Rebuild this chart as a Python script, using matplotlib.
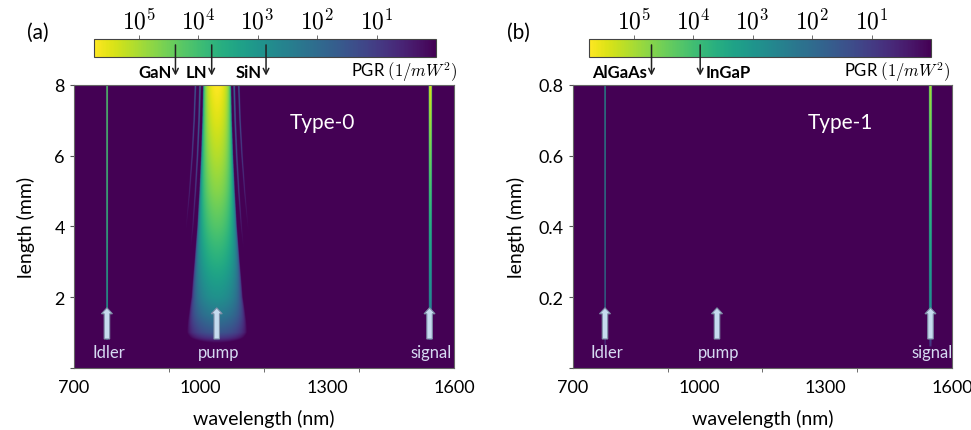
import numpy as np
import matplotlib
matplotlib.use('Agg')
import matplotlib.pyplot as plt
from matplotlib.colors import LogNorm
from matplotlib.cm import ScalarMappable
from matplotlib.patches import FancyArrow
import matplotlib.ticker as ticker

plt.rcParams['font.family'] = ['Lato', 'DejaVu Sans']
plt.rcParams['mathtext.fontset'] = 'cm'

# colour scale, log10(PGR) from 0 to this
pgr_log_max = 5.75
wl_min, wl_max = 700, 1600

# panel (a), Type-0
a_len_max = 8.0
a_idler, a_pump, a_signal = 778, 1038, 1542
a_pump_len = [0.7, 0.85, 1.0, 1.5, 2.0, 3.0, 4.0, 5.0, 6.0, 7.0, 8.0]
a_pump_peak = [0.0, 0.9, 1.5, 2.3, 2.9, 3.6, 4.2, 4.7, 5.1, 5.45, 5.75]
a_pump_hw = [80, 82, 80, 70, 62, 54, 47, 42, 38, 35, 33]
a_lobe_u = [1.22, 1.55]
a_lobe_drop = [3.8, 4.1]
a_line_len = [0.8, 2.0, 4.0, 6.0, 8.0]
a_idler_peak = [2.8, 3.4, 3.9, 4.2, 4.4]
a_signal_peak = [1.8, 2.8, 3.6, 4.5, 5.4]

# panel (b), Type-1
b_len_max = 0.8
b_idler, b_pump, b_signal = 776, 1042, 1549
b_line_len = [0.06, 0.16, 0.4, 0.6, 0.8]
b_idler_peak = [0.8, 2.4, 2.8, 3.0, 3.2]
b_signal_peak = [0.8, 2.8, 3.6, 4.3, 5.0]

# colorbar material markers (PGR in 1/mW^2)
a_materials = ['GaN', 'LN', 'SiN']
a_mat_pgr = [2.4e4, 5.9e3, 7.2e2]
b_materials = ['AlGaAs', 'InGaP']
b_mat_pgr = [5.0e4, 7.6e3]
b_mat_side = ['left', 'right']

wl = np.linspace(wl_min, wl_max, 1900)


def line_log(L, lens, peaks, centre, w):
    # narrow line, given as log10(PGR)
    pk = np.interp(L, lens, peaks)
    d = (wl[None, :] - centre) / w
    val = pk[:, None] - (d ** 6) / np.log(10)
    val[L < lens[0], :] = -10
    return val


# build panel (a) image
La = np.linspace(0, a_len_max, 420)
pk = np.interp(La, a_pump_len, a_pump_peak)
hw = np.interp(La, a_pump_len, a_pump_hw)
u = np.abs(wl[None, :] - a_pump) / hw[:, None]
c = np.cos(np.pi / 2 * np.minimum(u, 1)) ** 2
log_a = np.where(u < 1, pk[:, None] + np.log10(np.maximum(c, 1e-12)), -10)
for lu, ld in zip(a_lobe_u, a_lobe_drop):
    lobe = pk[:, None] - ld - ((u - lu) / 0.035) ** 2 / np.log(10)
    log_a = np.maximum(log_a, lobe)
log_a[La < a_pump_len[0], :] = -10
log_a = np.maximum(log_a, line_log(La, a_line_len, a_idler_peak, a_idler, 1.4))
log_a = np.maximum(log_a, line_log(La, a_line_len, a_signal_peak, a_signal, 2.8))
img_a = np.clip(log_a, 0, pgr_log_max)

# build panel (b) image
Lb = np.linspace(0, b_len_max, 420)
log_b = np.maximum(line_log(Lb, b_line_len, b_idler_peak, b_idler, 1.2),
                   line_log(Lb, b_line_len, b_signal_peak, b_signal, 2.6))
img_b = np.clip(log_b, 0, pgr_log_max)

fig = plt.figure(figsize=(9.71, 4.31), dpi=100)
ax_a = fig.add_axes([0.0762, 0.1439, 0.3914, 0.6566])
ax_b = fig.add_axes([0.5901, 0.1439, 0.3903, 0.6566])

label_col = '#d6daf2'
arrow_fc = '#c6dbef'
arrow_ec = '#7f8fa8'

panels = [
    (ax_a, img_a, a_len_max, (a_idler, a_pump, a_signal), 'Type-0', (1288, 6.95),
     [0, 2, 4, 6, 8], ['', '2', '4', '6', '8']),
    (ax_b, img_b, b_len_max, (b_idler, b_pump, b_signal), 'Type-1', (1334, 0.695),
     [0, 0.2, 0.4, 0.6, 0.8], ['', '0.2', '0.4', '0.6', '0.8']),
]

for ax, img, lmax, (wi, wp, ws), title, tpos, yt, ytl in panels:
    ax.imshow(img, extent=[wl_min, wl_max, 0, lmax], origin='lower', aspect='auto',
              cmap='viridis', vmin=0, vmax=pgr_log_max)
    ax.set_xlim(wl_min, wl_max)
    ax.set_ylim(0, lmax)
    ax.set_xticks([700, 1000, 1300, 1600])
    ax.set_xticks([925, 1150, 1375], minor=True)
    ax.tick_params(axis='x', which='major', length=0, labelsize=13, pad=8)
    ax.tick_params(axis='x', which='minor', length=3, color='#555555')
    ax.set_yticks(yt)
    ax.set_yticklabels(ytl)
    ax.tick_params(axis='y', length=3, color='#555555', labelsize=13)
    ax.set_xlabel('wavelength (nm)', fontsize=14, labelpad=10)
    ax.set_ylabel('length (mm)', fontsize=14, labelpad=14 if lmax > 1 else 10)
    for s in ax.spines.values():
        s.set_linewidth(0.8)
        s.set_color('#666666')

    y0 = 0.1025 * lmax
    dy = 0.11 * lmax
    for x, name in zip((wi, wp, ws), ('Idler', 'pump', 'signal')):
        ax.add_patch(FancyArrow(x, y0, 0, dy, width=13, head_width=26,
                                head_length=0.021 * lmax, length_includes_head=True,
                                fc=arrow_fc, ec=arrow_ec, lw=0.8, zorder=3))
        ax.text(x + 4, 0.058 * lmax, name, color=label_col, fontsize=12,
                ha='center', va='center')
    ax.text(tpos[0], tpos[1], title, color='white', fontsize=15, ha='center', va='center')

# colorbars
norm = LogNorm(vmin=1, vmax=10 ** pgr_log_max)
cbars = [
    (0.0968, a_materials, a_mat_pgr, ['left'] * 3, 457),
    (0.6066, b_materials, b_mat_pgr, b_mat_side, 950),
]
for left, mats, vals, sides, pgr_x in cbars:
    cax = fig.add_axes([left, 0.8643, 0.3522, 0.0429])
    cb = fig.colorbar(ScalarMappable(norm=norm, cmap='viridis'), cax=cax, orientation='horizontal')
    cax.invert_xaxis()
    cax.xaxis.set_ticks_position('top')
    cax.xaxis.set_label_position('top')
    cax.xaxis.set_major_locator(ticker.FixedLocator([1e5, 1e4, 1e3, 1e2, 1e1]))
    cax.xaxis.set_major_formatter(ticker.FixedFormatter(
        [r'$10^{5}$', r'$10^{4}$', r'$10^{3}$', r'$10^{2}$', r'$10^{1}$']))
    cax.xaxis.set_minor_locator(ticker.LogLocator(base=10, subs=np.arange(2, 10)))
    cax.xaxis.set_minor_formatter(ticker.NullFormatter())
    cax.tick_params(axis='x', which='major', length=3, width=0.6, color='#555555',
                    labelsize=17, pad=2)
    cax.tick_params(axis='x', which='minor', length=2, width=0.5, color='#777777')
    cb.outline.set_linewidth(0.8)
    cb.outline.set_edgecolor('#444444')
    trans = cax.get_xaxis_transform()
    for name, v, side in zip(mats, vals, sides):
        cax.annotate('', xy=(v, -0.98), xytext=(v, 0.68), xycoords=trans, textcoords=trans,
                     arrowprops=dict(arrowstyle='->', lw=1.1, color='#222222',
                                     shrinkA=0, shrinkB=0), annotation_clip=False)
        off = -3 if side == 'left' else 4
        cax.annotate(name, xy=(v, -0.8), xycoords=trans, xytext=(off, 0),
                     textcoords='offset points', ha='right' if side == 'left' else 'left',
                     va='center', fontsize=12, fontweight='bold', annotation_clip=False)
    fig.text(pgr_x / 971, 1 - 72 / 431, r'PGR $(1/mW^2)$', ha='right', va='center', fontsize=12)

fig.text(38 / 971, 1 - 33 / 431, '(a)', fontsize=15, ha='center', va='center')
fig.text(518 / 971, 1 - 33 / 431, '(b)', fontsize=15, ha='center', va='center')

fig.savefig('out.png', dpi=100)
